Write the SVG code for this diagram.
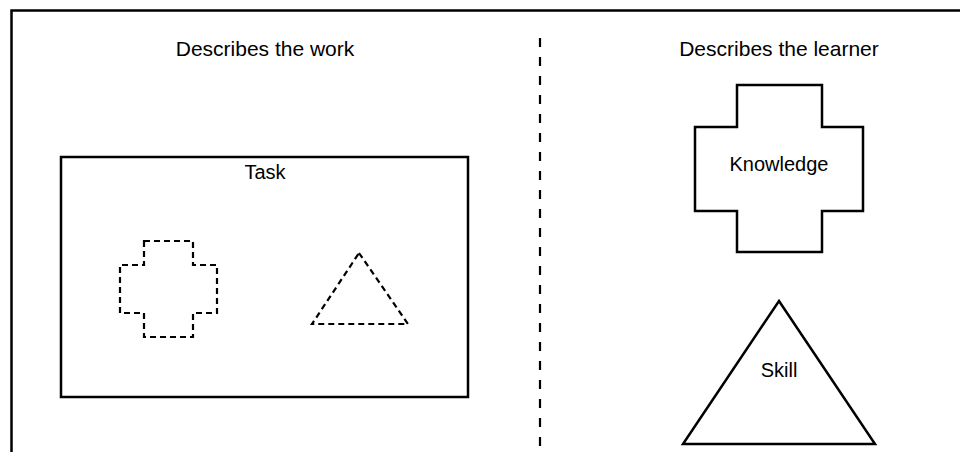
<svg xmlns="http://www.w3.org/2000/svg" width="960" height="452" viewBox="0 0 960 452">
<style>
.t{font-family:"Liberation Sans",Arial,sans-serif;font-size:20px;fill:#000;text-anchor:middle}
.h{font-size:21px}
.solid{fill:#fff;stroke:#000;stroke-width:2.5}
.dash{fill:none;stroke:#000;stroke-width:2.2;stroke-dasharray:6 4}
</style>
<rect width="960" height="452" fill="#fff"/>
<g id="frame"><rect x="11.5" y="10.5" width="1000" height="500" fill="none" stroke="#000" stroke-width="2.5"/></g>
<g id="divider"><line x1="540" y1="38" x2="540" y2="452" stroke="#000" stroke-width="2.2" stroke-dasharray="9 10"/></g>
<g id="label-work"><text class="t h" x="265" y="56">Describes the work</text></g>
<g id="label-learner"><text class="t h" x="779" y="56">Describes the learner</text></g>
<g id="task">
<rect class="solid" x="61" y="157" width="407" height="240"/>
<text class="t" x="265" y="179">Task</text>
<path class="dash" d="M144,241 H193 V265 H217 V313 H193 V337 H144 V313 H120 V265 H144 Z"/>
<path class="dash" d="M359,253 L408,324 L312,324 Z"/>
</g>
<g id="knowledge">
<path class="solid" d="M737,85 H822 V127 H863 V211 H822 V252 H737 V211 H695 V127 H737 Z"/>
<text class="t" x="779" y="171">Knowledge</text>
</g>
<g id="skill">
<path class="solid" d="M779,301 L875,444 L683,444 Z"/>
<text class="t" x="779" y="377">Skill</text>
</g>
</svg>
